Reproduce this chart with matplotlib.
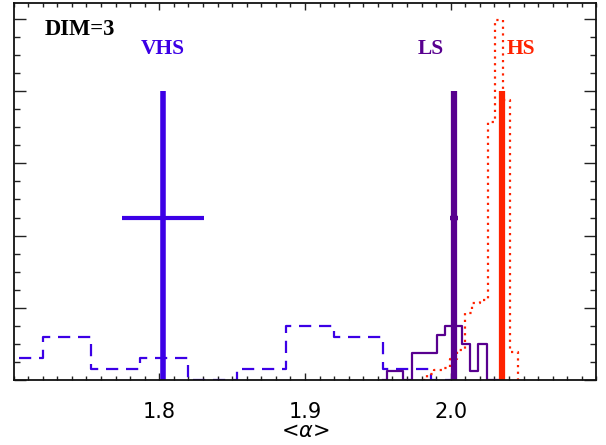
import numpy as np
import matplotlib.pyplot as plt
from matplotlib.ticker import MultipleLocator, NullFormatter

# colours
c_vhs = '#3C00E6'
c_ls = '#58008F'
c_hs = '#FF2200'

# mean <alpha> and errors
vhs_mean, vhs_err = 1.8025, 0.028
ls_mean, ls_err = 2.0023, 0.003
hs_mean, hs_err = 2.0350, 0.0
line_top = 0.8
err_y = 0.45

# VHS histogram (bin centres, counts)
vhs_centres = [1.6700, 1.7033, 1.7367, 1.7700, 1.8033, 1.8367, 1.8700, 1.9033, 1.9367, 1.9700, 2.0033]
vhs_counts = [2, 2, 4, 1, 2, 0, 1, 5, 4, 1, 0]

# LS histogram
ls_centres = [1.95321, 1.95893, 1.96465, 1.97037, 1.97609, 1.98181, 1.98753, 1.99325,
              1.99897, 2.00469, 2.01041, 2.01613, 2.02185, 2.02757, 2.03257]
ls_counts = [0, 1, 1, 0, 3, 3, 3, 5, 6, 6, 4, 1, 4, 0, 0]

# HS histogram (already in plot units)
hs_centres = [1.98092, 1.98614, 1.99136, 1.99658, 2.00180, 2.00702, 2.01224, 2.01746,
              2.02268, 2.02790, 2.03312, 2.03834, 2.04356, 2.04878]
hs_values = [0.0, 0.017, 0.028, 0.033, 0.058, 0.083, 0.186, 0.213,
             0.222, 0.715, 0.997, 0.776, 0.078, 0.0]

plt.rcParams['mathtext.fontset'] = 'dejavusans'

fig = plt.figure(figsize=(6.06, 4.45), dpi=100)
ax = fig.add_axes([13.6 / 606, 1 - 380 / 445, (596.4 - 13.6) / 606, (380 - 2.7) / 445])

vhs_h = np.array(vhs_counts) / max(vhs_counts) * 0.15
ls_h = np.array(ls_counts) / max(ls_counts) * 0.15

ax.plot(vhs_centres, vhs_h, drawstyle='steps-mid', color=c_vhs, lw=1.6,
        linestyle=(0, (5.5, 3.5)))
ax.plot(ls_centres, ls_h, drawstyle='steps-mid', color=c_ls, lw=1.6)
ax.plot(hs_centres, hs_values, drawstyle='steps-mid', color=c_hs, lw=1.6,
        linestyle=(0, (1, 2)))

# mean lines + error bars
ax.plot([vhs_mean, vhs_mean], [0, line_top], color=c_vhs, lw=4, solid_capstyle='butt')
ax.plot([vhs_mean - vhs_err, vhs_mean + vhs_err], [err_y, err_y], color=c_vhs, lw=3, solid_capstyle='butt')
ax.plot([ls_mean, ls_mean], [0, line_top], color=c_ls, lw=4.5, solid_capstyle='butt')
ax.plot([ls_mean - ls_err, ls_mean + ls_err], [err_y, err_y], color=c_ls, lw=3.2, solid_capstyle='butt')
ax.plot([hs_mean, hs_mean], [0, line_top], color=c_hs, lw=4.5, solid_capstyle='butt')

tfont = dict(family='Liberation Serif', weight='bold')
ax.text(vhs_mean, 0.917, 'VHS', color=c_vhs, ha='center', va='center', fontsize=15.5, **tfont)
ax.text(1.9865, 0.917, 'LS', color=c_ls, ha='center', va='center', fontsize=15.5, **tfont)
ax.text(2.0479, 0.917, 'HS', color=c_hs, ha='center', va='center', fontsize=15.5, **tfont)
ax.text(1.7215, 0.972, 'DIM=3', color='black', ha='left', va='center', fontsize=16.3, **tfont)

ax.set_xlim(1.7, 2.1)
ax.set_ylim(0, 1.045)
ax.xaxis.set_major_locator(MultipleLocator(0.1))
ax.xaxis.set_minor_locator(MultipleLocator(0.01))
ax.yaxis.set_major_locator(MultipleLocator(0.2))
ax.yaxis.set_minor_locator(MultipleLocator(0.05))
ax.yaxis.set_major_formatter(NullFormatter())
ax.set_xticks([1.8, 1.9, 2.0])
ax.set_xticklabels(['1.8', '1.9', '2.0'])
ax.tick_params(axis='x', which='both', direction='in', top=True, bottom=True,
               labelsize=15, pad=16, width=1, color='#222222')
ax.tick_params(axis='x', which='major', length=5)
ax.tick_params(axis='x', which='minor', length=2.6)
ax.tick_params(axis='y', which='both', direction='in', left=True, right=True,
               width=1, color='#222222')
ax.tick_params(axis='y', which='major', length=8.9)
ax.tick_params(axis='y', which='minor', length=4.2)
for s in ax.spines.values():
    s.set_linewidth(1.3)
    s.set_color('#111111')

ax.set_xlabel(r'<$\alpha$>', fontsize=15, labelpad=-1)

fig.savefig('out.png', dpi=100)
